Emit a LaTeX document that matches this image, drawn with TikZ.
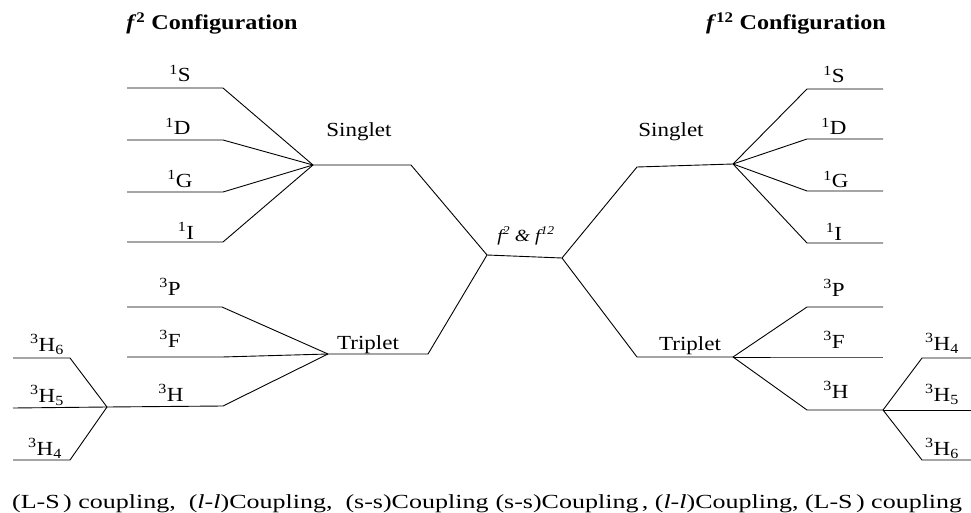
\documentclass[tikz,border=0pt]{standalone}
\usepackage{fontspec}
\setmainfont{Liberation Serif}[FakeStretch=1.15]
\newfontfamily\widefont{Liberation Serif}[FakeStretch=1.3]
\tikzset{>=stealth}
\tikzset{
  term/.style={anchor=base, inner sep=0pt, font=\fontsize{20}{20}\selectfont},
  heading/.style={anchor=base, inner sep=0pt, font=\fontsize{21}{21}\selectfont\bfseries},
  level/.style={line width=0.9pt}
}

\begin{document}
\begin{tikzpicture}[x=1pt,y=-1pt]
\useasboundingbox (0,0) rectangle (971,513);

\foreach \n/\ya/\yb in {S/88/89,D/140/139,G/192/191,I/242/243} {
  \coordinate (l\n0) at (127,\ya); \coordinate (l\n1) at (223,\ya);
  \coordinate (r\n0) at (807,\yb); \coordinate (r\n1) at (883,\yb);
}
\coordinate (lsing0) at (313,165); \coordinate (lsing1) at (411,165);
\coordinate (mid0) at (487,255); \coordinate (mid1) at (562,258);
\coordinate (rsing0) at (637,167); \coordinate (rsing1) at (733,164);
\coordinate (ltrip0) at (328,354); \coordinate (ltrip1) at (428,354);
\coordinate (rtrip0) at (637,357); \coordinate (rtrip1) at (733,357);
\foreach \n/\y in {P/307,F/357} {
  \coordinate (l\n0) at (127,\y); \coordinate (l\n1) at (222,\y);
  \coordinate (r\n0) at (807,\y); \coordinate (r\n1) at (883,\y);
}
\coordinate (lH0) at (107,407); \coordinate (lH1) at (223,406);
\coordinate (rH0) at (807,410); \coordinate (rH1) at (883,410);
\coordinate (lH60) at (13,358); \coordinate (lH61) at (70,358);
\coordinate (lH50) at (13,408);
\coordinate (lH40) at (13,460); \coordinate (lH41) at (70,460);
\coordinate (rH40) at (971,358); \coordinate (rH41) at (922,358);
\coordinate (rH50) at (971,410);
\coordinate (rH60) at (971,460); \coordinate (rH61) at (922,460);

\foreach \n in {S,D,G,I} {
  \draw[level] (l\n0) -- (l\n1) -- (lsing0);
  \draw[level] (r\n1) -- (r\n0) -- (rsing1);
}
\foreach \n in {P,F,H} {
  \draw[level] (l\n0) -- (l\n1) -- (ltrip0);
  \draw[level] (r\n1) -- (r\n0) -- (rtrip1);
}
\draw[level] (lsing0) -- (lsing1) -- (mid0) -- (mid1) -- (rsing0) -- (rsing1);
\draw[level] (ltrip0) -- (ltrip1) -- (mid0);
\draw[level] (mid1) -- (rtrip0) -- (rtrip1);
\draw[level] (lH60) -- (lH61) -- (lH0);
\draw[level] (lH50) -- (lH0);
\draw[level] (lH40) -- (lH41) -- (lH0);
\draw[level] (rH40) -- (rH41) -- (rH1);
\draw[level] (rH50) -- (rH1);
\draw[level] (rH60) -- (rH61) -- (rH1);

\foreach \n/\x/\y/\t in {lS/180/82/{\textsuperscript{1}S}, lD/178/135/{\textsuperscript{1}D},
  lG/180/187/{\textsuperscript{1}G}, lI/186/239/{\textsuperscript{1}I},
  rS/834/83/{\textsuperscript{1}S}, rD/834/135/{\textsuperscript{1}D},
  rG/836/188/{\textsuperscript{1}G}, rI/834/240/{\textsuperscript{1}I},
  lP/170/295/{\textsuperscript{3}P}, lF/170/347/{\textsuperscript{3}F},
  lH/171/401/{\textsuperscript{3}H}, rP/834/296/{\textsuperscript{3}P},
  rF/834/348/{\textsuperscript{3}F}, rH/836/398/{\textsuperscript{3}H},
  lH6/47/351/{\textsuperscript{3}H\textsubscript{6}}, lH5/47/402/{\textsuperscript{3}H\textsubscript{5}},
  lH4/45/455/{\textsuperscript{3}H\textsubscript{4}}, rH4/942/350/{\textsuperscript{3}H\textsubscript{4}},
  rH5/942/401/{\textsuperscript{3}H\textsubscript{5}}, rH6/942/455/{\textsuperscript{3}H\textsubscript{6}}}
  \node[term] (t\n) at (\x,\y) {\t};

\node[term] (lsinglet) at (359,137) {Singlet};
\node[term] (rsinglet) at (671,137) {Singlet};
\node[term] (ltriplet) at (368,349) {Triplet};
\node[term] (rtriplet) at (690,350) {Triplet};
\node[term, font=\fontsize{17}{17}\selectfont\itshape] (mix) at (526,241)
  {f\textsuperscript{2} \& f\textsuperscript{12}};

\node[heading] (lconf) at (212,30) {\textit{f}\textsuperscript{2} Configuration};
\node[heading] (rconf) at (796,30) {\textit{f}\textsuperscript{12} Configuration};

\node[term, anchor=base west, font=\fontsize{20}{20}\selectfont\widefont] (coupling) at (12,508) {\makebox[950pt]{(L-S\,) coupling,\ \ (\textit{l-l})Coupling,\ \ (s-s)Coupling\hfill(s-s)Coupling\,, (\textit{l-l})Coupling, (L-S\,) coupling}};
\end{tikzpicture}
\end{document}
